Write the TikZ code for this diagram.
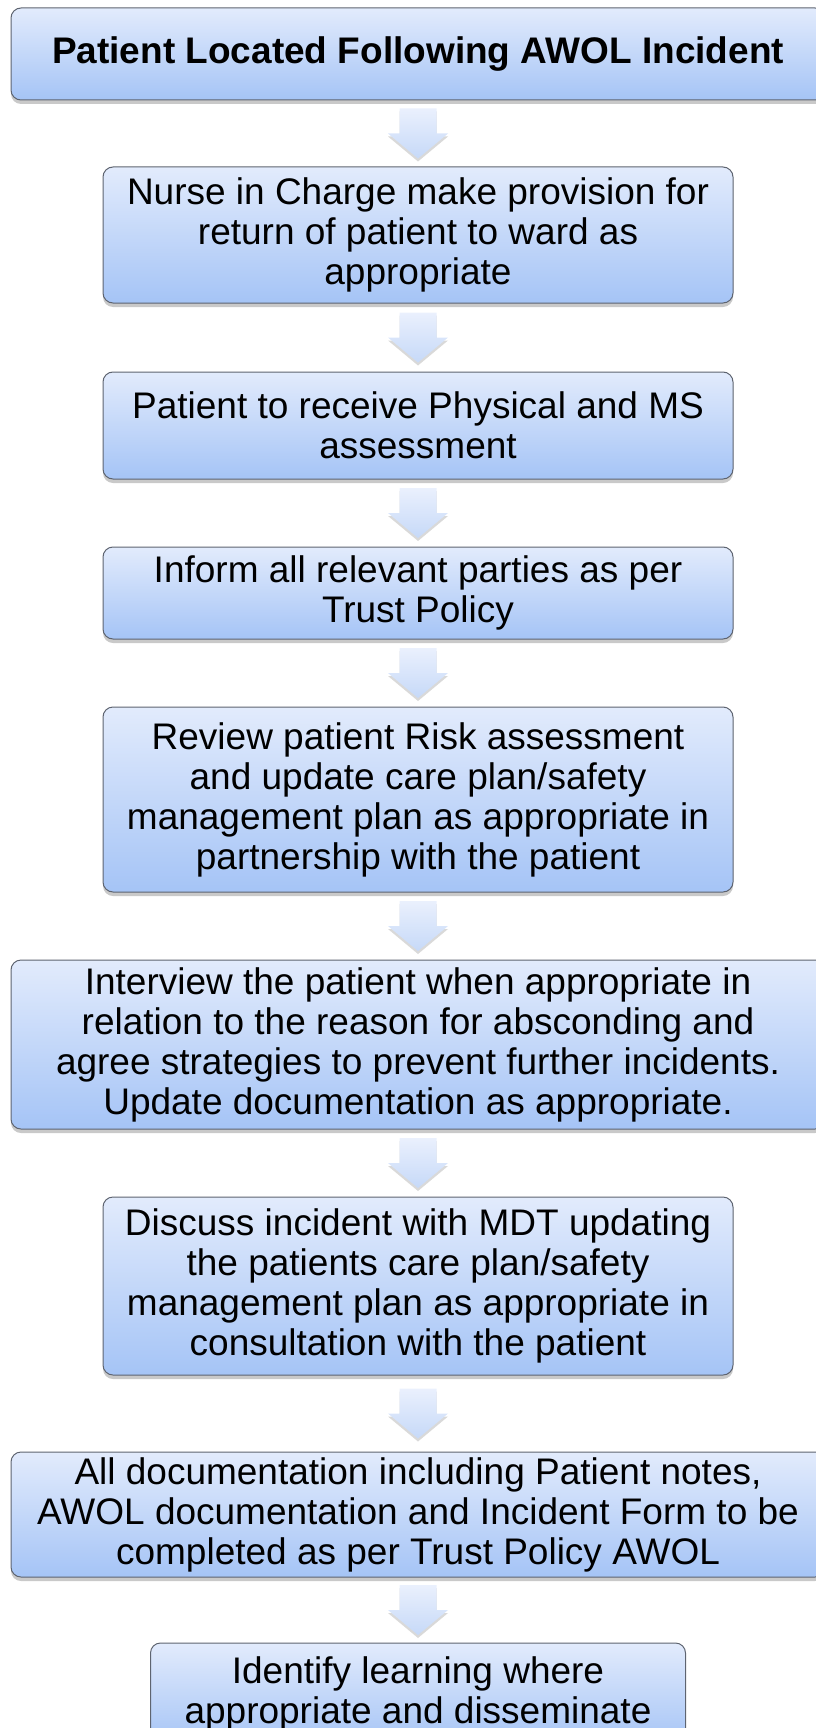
\documentclass[tikz,border=0pt]{standalone}
\usepackage{fontspec}
\setmainfont{Liberation Sans}
\usetikzlibrary{shadows, calc}
\definecolor{boxtop}{HTML}{E2EBFC}
\definecolor{boxbottom}{HTML}{A5C4F6}
\definecolor{boxline}{HTML}{5E6470}
\definecolor{arrowtop}{HTML}{EAF0FD}
\definecolor{arrowbottom}{HTML}{C6D9F8}

\tikzset{
  flowbox/.style={draw=boxline, line width=1pt, rounded corners=10pt,
    top color=boxtop, bottom color=boxbottom, align=center, inner sep=0pt,
    font=\fontsize{37}{40}\selectfont,
    drop shadow={shadow xshift=0pt, shadow yshift=-4pt, opacity=0.3, fill=black!70}},
  widebox/.style={flowbox, minimum width=814pt},
  midbox/.style={flowbox, minimum width=630pt},
  arrowfill/.style={top color=arrowtop, bottom color=arrowbottom,
    drop shadow={shadow xshift=0pt, shadow yshift=-3pt, opacity=0.15, fill=black}}
}

% block arrow in the gap between two boxes
\newcommand{\flowarrow}[2]{%
  \coordinate (m) at ($(#1.south)!0.5!(#2.north)$);
  \path[arrowfill] ($(m)+(-18.5,-25)$) -- ($(m)+(18.5,-25)$) -- ($(m)+(18.5,0)$)
    -- ($(m)+(30,0)$) -- ($(m)+(0,25)$) -- ($(m)+(-30,0)$) -- ($(m)+(-18.5,0)$) -- cycle;
}

\begin{document}
\begin{tikzpicture}[x=1pt, y=-1pt]
\useasboundingbox (0,0) rectangle (815,1728);

% Steps
\node[widebox, minimum height=92pt] (located) at (418,54) {\textbf{Patient Located Following AWOL Incident}};
\node[midbox, minimum height=136pt] (return) at (418,235) {Nurse in Charge make provision for\\return of patient to ward as\\appropriate};
\node[midbox, minimum height=107pt] (assess) at (418,425.5) {Patient to receive Physical and MS\\assessment};
\node[midbox, minimum height=92pt] (inform) at (418,593) {Inform all relevant parties as per\\Trust Policy};
\node[midbox, minimum height=185pt] (review) at (418,799.5) {Review patient Risk assessment\\and update care plan/safety\\management plan as appropriate in\\partnership with the patient};
\node[widebox, minimum height=169pt] (interview) at (418,1044.5) {Interview the patient when appropriate in\\relation to the reason for absconding and\\agree strategies to prevent further incidents.\\Update documentation as appropriate.};
\node[midbox, minimum height=178pt] (discuss) at (418,1286) {Discuss incident with MDT updating\\the patients care plan/safety\\management plan as appropriate in\\consultation with the patient};
\node[widebox, minimum height=125pt] (docs) at (418,1514.5) {All documentation including Patient notes,\\AWOL documentation and Incident Form to be\\completed as per Trust Policy AWOL};
\node[flowbox, minimum width=535pt, minimum height=102pt] (learning) at (418,1694) {Identify learning where\\appropriate and disseminate};

% Arrows
\foreach \a/\b in {located/return, return/assess, assess/inform, inform/review,
    review/interview, interview/discuss, discuss/docs, docs/learning} {
  \flowarrow{\a}{\b}
}

\end{tikzpicture}
\end{document}
